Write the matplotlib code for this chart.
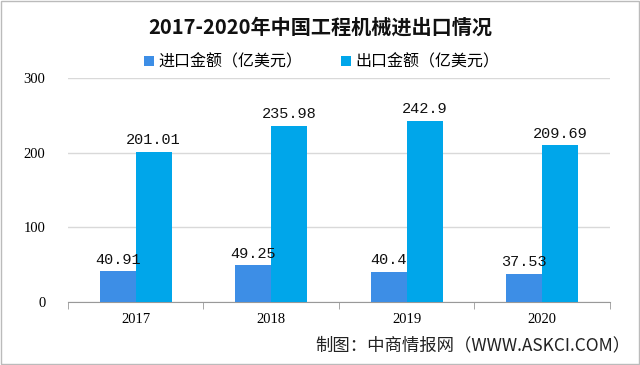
import numpy as np
import matplotlib
matplotlib.use("Agg")
import matplotlib.pyplot as plt
from matplotlib.patches import Rectangle

plt.rcParams['font.family'] = ['Noto Sans CJK SC', 'DejaVu Sans']

years = ['2017', '2018', '2019', '2020']
imports = [40.91, 49.25, 40.4, 37.53]
exports = [201.01, 235.98, 242.9, 209.69]
import_labels = ['40.91', '49.25', '40.4', '37.53']
export_labels = ['201.01', '235.98', '242.9', '209.69']

c_imp = '#3d8ee6'
c_exp = '#00a6ea'

fig = plt.figure(figsize=(6.4, 3.65), dpi=100)
ax = fig.add_axes([0.106, 0.173, 0.847, 0.613])

x = np.arange(len(years))
w = 0.265
ax.bar(x - w / 2, imports, w, color=c_imp, label='进口金额（亿美元）', zorder=3)
ax.bar(x + w / 2, exports, w, color=c_exp, label='出口金额（亿美元）', zorder=3)

for i in range(len(years)):
    ax.text(x[i] - w / 2, imports[i] + 6, import_labels[i], ha='center', va='bottom',
            fontsize=11, family=['Liberation Mono', 'DejaVu Sans Mono'], color='#111111', zorder=4)
    ax.text(x[i] + w / 2, exports[i] + 6, export_labels[i], ha='center', va='bottom',
            fontsize=11, family=['Liberation Mono', 'DejaVu Sans Mono'], color='#111111', zorder=4)

ax.set_xlim(-0.5, 3.5)
ax.set_ylim(0, 300)
ax.set_yticks([0, 100, 200, 300])
ax.yaxis.grid(True, color='#d9d9d9', linewidth=1, zorder=0)
ax.set_axisbelow(True)
for s in ['top', 'right', 'left']:
    ax.spines[s].set_visible(False)
ax.spines['bottom'].set_color('#999999')
ax.tick_params(axis='y', length=0, labelsize=10.5, pad=16)
ax.set_xticks(x)
ax.set_xticklabels(years)
ax.tick_params(axis='x', length=0, labelsize=10.5, pad=8)
ax.set_xticks([-0.5, 0.5, 1.5, 2.5, 3.5], minor=True)
ax.tick_params(axis='x', which='minor', length=5, color='#999999', direction='out')
for lab in ax.get_xticklabels() + ax.get_yticklabels():
    lab.set_family(['Liberation Serif', 'DejaVu Serif'])

fig.text(0.5, 0.925, '2017-2020年中国工程机械进出口情况', ha='center', va='center',
         fontsize=14.5, fontweight='bold', color='#111111')

leg = fig.legend(loc='center', bbox_to_anchor=(0.503, 0.83), ncol=2, frameon=False,
                 fontsize=11.5, handlelength=0.6, handleheight=0.6, handletextpad=0.3,
                 columnspacing=2.4)

fig.text(0.985, 0.055, '制图：中商情报网（WWW.ASKCI.COM）', ha='right', va='center',
         fontsize=12.5, color='#222222')

fig.patches.append(Rectangle((0.002, 0.003), 0.996, 0.994, transform=fig.transFigure,
                             fill=False, edgecolor='#bbbbbb', linewidth=1))

fig.savefig('out.png', dpi=100)
